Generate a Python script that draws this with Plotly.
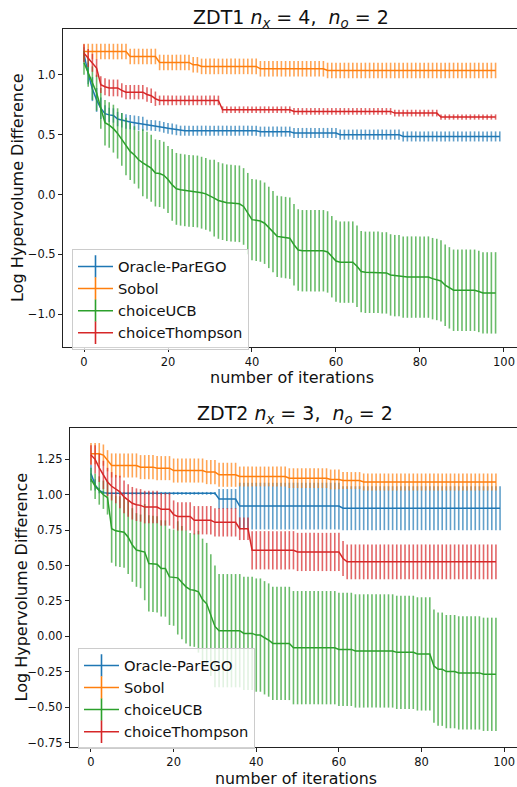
import plotly.graph_objects as go

# ---------------- data ----------------
iters_long = list(range(100))   # Oracle-ParEGO has 100 points
iters = list(range(99))         # the other methods have 99 points

names = ["Oracle-ParEGO", "Sobol", "choiceUCB", "choiceThompson"]
colors = ["#1f77b4", "#ff7f0e", "#2ca02c", "#d62728"]
bar_colors = ["rgba(31,119,180,0.7)", "rgba(255,127,14,0.7)",
              "rgba(44,160,44,0.7)", "rgba(214,39,40,0.7)"]

# ZDT1 (top)
zdt1_parego = ([1.17, 1.01, 0.88, 0.79, 0.72, 0.675, 0.665, 0.66, 0.63, 0.62,
                0.61, 0.605, 0.60, 0.595, 0.59, 0.58, 0.578, 0.575, 0.57, 0.56,
                0.553, 0.547, 0.54] + [0.533] * 19 + [0.525] * 8 + [0.514] * 11
               + [0.50] * 15 + [0.485] * 24)
zdt1_parego_err = ([0.06, 0.09, 0.10, 0.10, 0.09, 0.07] + [0.06] * 9
                   + [0.045] * 8 + [0.042] * 77)

zdt1_sobol = ([1.194] * 11 + [1.153] * 7 + [1.103] * 8 + [1.083] * 2
              + [1.07] * 14 + [1.05] * 16 + [1.036] * 41)
zdt1_sobol_err = [0.065] * 99

zdt1_ucb = ([1.10, 1.02, 0.93, 0.85, 0.72, 0.60, 0.58, 0.55, 0.51, 0.46,
             0.40, 0.36, 0.33, 0.29, 0.265, 0.245, 0.22, 0.18, 0.175, 0.16,
             0.125, 0.08, 0.047, 0.04, 0.035, 0.03, 0.028, 0.025, 0.015, 0.005,
             -0.01, -0.03, -0.05, -0.06, -0.069, -0.072, -0.075, -0.078, -0.10, -0.16,
             -0.21, -0.215, -0.222, -0.24, -0.275, -0.31, -0.35, -0.355, -0.36, -0.365,
             -0.42, -0.464] + [-0.47] * 6 + [-0.48, -0.52, -0.556] + [-0.565] * 4
            + [-0.60, -0.644] + [-0.65] * 4 + [-0.655] * 2 + [-0.672] + [-0.678] * 2
            + [-0.69] * 7 + [-0.703, -0.71, -0.722, -0.758, -0.78] + [-0.80] * 6
            + [-0.81] + [-0.822] * 4)
zdt1_ucb_err = ([0.10, 0.12, 0.14, 0.15, 0.17, 0.19, 0.19, 0.20, 0.21, 0.22]
                + [0.24] * 4 + [0.28] * 7 + [0.30] * 10 + [0.32] * 8 + [0.34] * 60)

zdt1_thompson = ([1.18, 1.14, 1.10, 1.056, 0.917, 0.90] + [0.89] * 3 + [0.87]
                 + [0.855] * 5 + [0.835, 0.825, 0.80] + [0.786] * 15
                 + [0.708] * 17 + [0.694] * 24 + [0.68] * 11 + [0.647] * 14)
zdt1_thompson_err = ([0.075] * 4 + [0.07] * 5 + [0.06] * 9 + [0.04] * 15
                     + [0.028] * 52 + [0.022] * 14)

# ZDT2 (bottom)
zdt2_parego = [1.15, 1.07, 1.03, 1.015] + [1.01] * 27 + [0.97] * 5 + [0.92] * 25 + [0.905] * 39
zdt2_parego_err = [0.06, 0.04, 0.02] + [0.01] * 28 + [0.07] * 5 + [0.165] * 25 + [0.155] * 39

zdt2_sobol = ([1.29] * 3 + [1.28, 1.24] + [1.207] * 7 + [1.195] * 4 + [1.188] * 4
              + [1.171] * 8 + [1.16] * 3 + [1.141] * 5 + [1.129] * 12 + [1.117] * 10
              + [1.108] * 3 + [1.10] * 5 + [1.09] * 33)
zdt2_sobol_err = [0.075] * 5 + [0.085] * 31 + [0.07] * 25 + [0.06] * 38

zdt2_ucb = ([1.11, 1.06, 1.03, 1.0, 0.98, 0.76, 0.745, 0.74, 0.735, 0.70,
             0.645, 0.61, 0.60, 0.595, 0.515, 0.512, 0.509, 0.48, 0.479, 0.42,
             0.415, 0.413, 0.38, 0.35, 0.33, 0.326, 0.315, 0.26, 0.23, 0.15,
             0.07] + [0.04] * 6 + [0.021] * 3 + [0.009] * 2 + [-0.01, -0.026]
            + [-0.05] * 5 + [-0.08] * 11 + [-0.092] * 4 + [-0.103] * 10
            + [-0.113] * 5 + [-0.124] * 4 + [-0.21] + [-0.232] * 2 + [-0.249] * 3
            + [-0.258] * 6 + [-0.268] * 4)
zdt2_ucb_err = ([0.08, 0.09, 0.10, 0.10, 0.12, 0.24] + [0.25] * 3 + [0.26] * 4
                + [0.34] * 8 + [0.40] * 5 + [0.43] * 5 + [0.40] * 68)

zdt2_thompson = ([1.28, 1.25, 1.19, 1.14, 1.09, 1.06, 1.04, 1.02, 0.985, 0.96,
                  0.94, 0.93, 0.925] + [0.913] * 4 + [0.897] * 3 + [0.86]
                 + [0.847] * 4 + [0.82] * 5 + [0.805] * 6 + [0.76] * 3
                 + [0.608] * 11 + [0.596] * 11 + [0.55] + [0.526] * 37)
zdt2_thompson_err = ([0.07] + [0.10] * 6 + [0.115] * 13 + [0.10] * 16 + [0.08] * 3
                     + [0.135] * 22 + [0.123] * 38)

x_ticks = [0, 20, 40, 60, 80, 100]
y1_ticks = [-1.0, -0.5, 0.0, 0.5, 1.0]
y2_ticks = [-0.75, -0.5, -0.25, 0.0, 0.25, 0.5, 0.75, 1.0, 1.25]

# ---------------- figure ----------------
W, H = 517, 787
FONT = "DejaVu Sans"
fig = go.Figure()

panels = [
    ("x", "y", "legend",
     [(iters_long, zdt1_parego, zdt1_parego_err), (iters, zdt1_sobol, zdt1_sobol_err),
      (iters, zdt1_ucb, zdt1_ucb_err), (iters, zdt1_thompson, zdt1_thompson_err)]),
    ("x2", "y2", "legend2",
     [(iters_long, zdt2_parego, zdt2_parego_err), (iters, zdt2_sobol, zdt2_sobol_err),
      (iters, zdt2_ucb, zdt2_ucb_err), (iters, zdt2_thompson, zdt2_thompson_err)]),
]

for xa, ya, lg, series in panels:
    for k, (xs, ys, es) in enumerate(series):
        fig.add_trace(go.Scatter(
            x=xs, y=ys, mode="lines", xaxis=xa, yaxis=ya,
            line=dict(color=colors[k], width=1.5),
            error_y=dict(type="data", array=es, visible=True, width=0,
                         thickness=1.6, color=bar_colors[k]),
            showlegend=False, hoverinfo="skip"))
    for k in range(4):
        fig.add_trace(go.Scatter(
            x=[None], y=[None], mode="lines+markers", xaxis=xa, yaxis=ya,
            name=names[k], legend=lg,
            line=dict(color=colors[k], width=1.5),
            marker=dict(symbol="line-ns-open", size=16,
                        line=dict(width=1.6, color=colors[k])),
            showlegend=True))

axis_common = dict(showgrid=False, zeroline=False, showline=True, linecolor="#222",
                   linewidth=1, ticks="outside", ticklen=4, tickwidth=1, tickcolor="#222",
                   tickfont=dict(family=FONT, size=11.5, color="#111"))

top_y0, top_y1 = 1 - 348 / H, 1 - 29 / H
bot_y0, bot_y1 = 1 - 749 / H, 1 - 429 / H

legend_common = dict(xanchor="left", yanchor="top", bgcolor="rgba(255,255,255,0.8)",
                     bordercolor="#cccccc", borderwidth=1,
                     font=dict(family=FONT, size=14.7, color="#111"),
                     itemwidth=35, tracegroupgap=0)

fig.update_layout(
    width=W, height=H, margin=dict(l=0, r=0, t=0, b=0),
    paper_bgcolor="white", plot_bgcolor="white",
    font=dict(family=FONT, color="#111"),
    xaxis=dict(domain=[63 / W, 1], range=[-5.0, 103.1], tickvals=x_ticks,
               mirror=True, anchor="y", **axis_common),
    yaxis=dict(domain=[top_y0, top_y1], range=[-1.275, 1.383], tickvals=y1_ticks,
               tickformat=".1f", anchor="x", **axis_common),
    xaxis2=dict(domain=[70 / W, 1], range=[-5.08, 103.1], tickvals=x_ticks,
                mirror=True, anchor="y2", **axis_common),
    yaxis2=dict(domain=[bot_y0, bot_y1], range=[-0.782, 1.472], tickvals=y2_ticks,
                tickformat=".2f", anchor="x2", **axis_common),
    legend=dict(x=72 / W, y=1 - 250 / H, **legend_common),
    legend2=dict(x=78 / W, y=1 - 650 / H, **legend_common),
)

annos = [
    dict(text="ZDT1 <i>n</i><sub><i>x</i></sub> = 4,  <i>n</i><sub><i>o</i></sub> = 2",
         x=291 / W, y=1 - 19 / H, font=dict(size=19)),
    dict(text="ZDT2 <i>n</i><sub><i>x</i></sub> = 3,  <i>n</i><sub><i>o</i></sub> = 2",
         x=295 / W, y=1 - 416 / H, font=dict(size=19)),
    dict(text="number of iterations", x=292 / W, y=1 - 378 / H, font=dict(size=16)),
    dict(text="number of iterations", x=296 / W, y=1 - 780 / H, font=dict(size=15.8)),
    dict(text="Log Hypervolume Difference", x=17 / W, y=(top_y0 + top_y1) / 2,
         textangle=-90, font=dict(size=16)),
    dict(text="Log Hypervolume Difference", x=22 / W, y=(bot_y0 + bot_y1) / 2,
         textangle=-90, font=dict(size=16)),
]
for a in annos:
    a.update(xref="paper", yref="paper", xanchor="center", yanchor="middle",
             showarrow=False)
    a["font"].update(family=FONT, color="#111")
    fig.add_annotation(**a)

fig.write_html("out.html")
